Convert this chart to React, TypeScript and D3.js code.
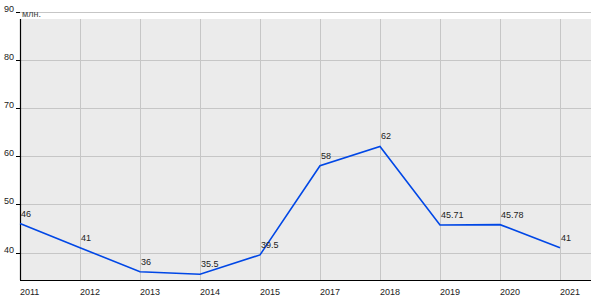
import React from "react";
import * as d3 from "d3";

const years = ["2011", "2012", "2013", "2014", "2015", "2017", "2018", "2019", "2020", "2021"];
const values = [46, 41, 36, 35.5, 39.5, 58, 62, 45.71, 45.78, 41];
const valueLabels = ["46", "41", "36", "35.5", "39.5", "58", "62", "45.71", "45.78", "41"];
const yTicks = [40, 50, 60, 70, 80, 90];
const unitLabel = "млн.";

export default function App() {
  const W = 600, H = 300;
  const left = 20, right = 591, top = 19, bottom = 280;
  const x = d3.scalePoint<string>().domain(years).range([20, 560]);
  const y = d3.scaleLinear().domain([40, 90]).range([252.5, 11.5]);
  const line = d3.line<number>().x((_, i) => x(years[i]) as number).y((d) => y(d));
  const font = "'Liberation Sans', Arial, sans-serif";
  return (
    <svg width={W} height={H} style={{ position: "absolute", left: 0, top: 0 }} fontFamily={font}>
      <rect x={0} y={0} width={W} height={H} fill="#fff" />
      <rect x={left} y={top} width={right - left} height={bottom - top} fill="#ebebeb" />
      {years.map((yr) => (
        <line key={yr} x1={(x(yr) as number) + 0.5} x2={(x(yr) as number) + 0.5} y1={top} y2={bottom} stroke="#c6c6c6" strokeWidth={1} />
      ))}
      {yTicks.map((t) => (
        <g key={t}>
          <line x1={left} x2={right} y1={Math.round(y(t)) + 0.5} y2={Math.round(y(t)) + 0.5} stroke="#c6c6c6" strokeWidth={1} />
          <line x1={16} x2={left} y1={Math.round(y(t)) + 0.5} y2={Math.round(y(t)) + 0.5} stroke="#000" strokeWidth={1} />
          <text x={14} y={Math.round(y(t)) + 0} textAnchor="end" fontSize={9} fill="#222">{t}</text>
        </g>
      ))}
      <line x1={left + 0.5} x2={left + 0.5} y1={top} y2={bottom} stroke="#000" strokeWidth={1.2} />
      <line x1={left} x2={right} y1={bottom + 0.5} y2={bottom + 0.5} stroke="#000" strokeWidth={1.2} />
      <text x={22} y={17} fontSize={9} fill="#444">{unitLabel}</text>
      <path d={line(values) || ""} fill="none" stroke="#0047e6" strokeWidth={1.6} />
      {values.map((v, i) => (
        <text key={i} x={(x(years[i]) as number) + 1} y={y(v) - 7} fontSize={9} fill="#222">{valueLabels[i]}</text>
      ))}
      {years.map((yr) => (
        <text key={yr} x={x(yr) as number} y={295} fontSize={9} fill="#222">{yr}</text>
      ))}
    </svg>
  );
}
